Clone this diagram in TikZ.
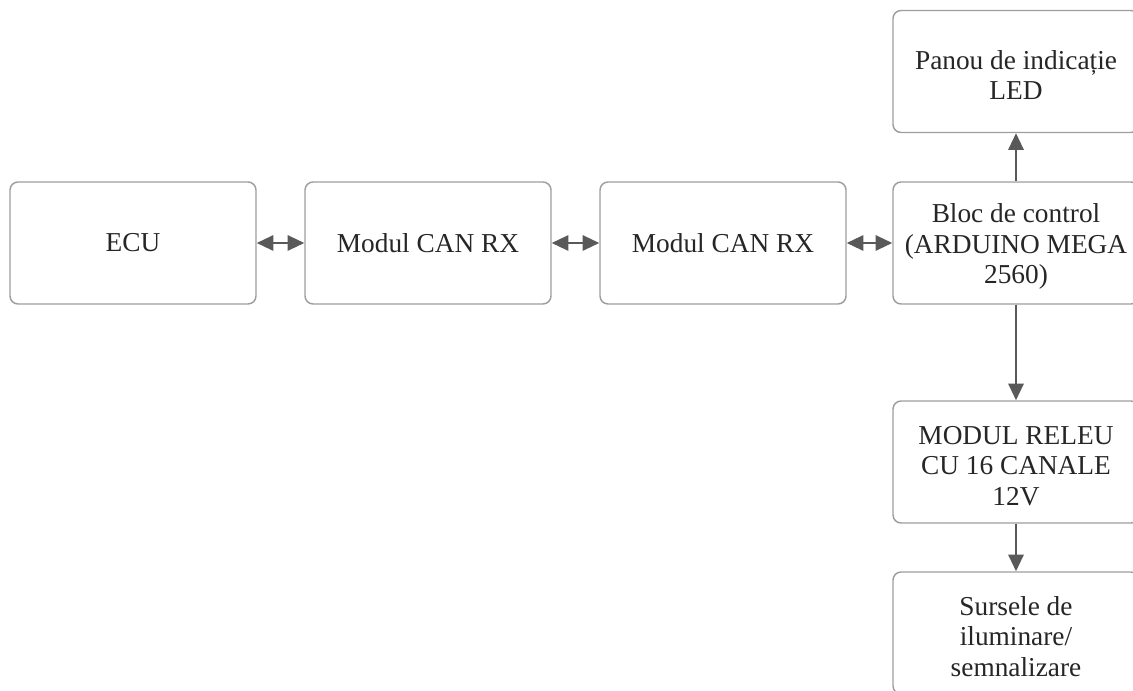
\documentclass[tikz,border=0pt]{standalone}
\usepackage{fontspec}
\setmainfont{Liberation Serif}
\usetikzlibrary{arrows.meta}
\definecolor{boxline}{HTML}{9E9E9E}
\definecolor{arrowcol}{HTML}{595959}
\definecolor{txt}{HTML}{262626}
\newcommand{\lowr}{\rule{0pt}{19.5pt}}
\begin{document}
\begin{tikzpicture}[x=0.75pt,y=-0.75pt,
  blk/.style={draw=boxline, line width=1.1pt, rounded corners=6pt, fill=white,
    minimum width=184.5pt, minimum height=91.5pt, inner sep=0pt, align=center,
    text=txt, font=\fontsize{20.5}{23}\selectfont},
  conn/.style={draw=arrowcol, line width=1.5pt},
  tip/.tip={Triangle[length=12.5pt,width=11.5pt]}
]
\useasboundingbox (0,0) rectangle (1133,691);
\clip (0,0) rectangle (1133,691);
\node[blk] (ecu) at (133,243) {ECU};
\node[blk] (can1) at (428,243) {Modul CAN RX};
\node[blk] (can2) at (723,243) {Modul CAN RX};
\node[blk] (bloc) at (1016,243) {\lowr Bloc de control\\(ARDUINO MEGA\\2560)};
\node[blk] (panou) at (1016,71.5) {\lowr Panou de indicație\\LED};
\node[blk] (releu) at (1016,462) {\lowr MODUL RELEU\\CU 16 CANALE\\12V};
\node[blk] (surse) at (1016,633) {\lowr Sursele de\\iluminare/\\semnalizare};
\draw[conn, {tip}-{tip}, fill=arrowcol] (ecu) -- (can1);
\draw[conn, {tip}-{tip}, fill=arrowcol] (can1) -- (can2);
\draw[conn, {tip}-{tip}, fill=arrowcol] (can2) -- (bloc);
\draw[conn, -{tip}, fill=arrowcol] (bloc) -- (panou);
\draw[conn, -{tip}, fill=arrowcol] (bloc) -- (releu);
\draw[conn, -{tip}, fill=arrowcol] (releu) -- (surse);
\end{tikzpicture}
\end{document}
